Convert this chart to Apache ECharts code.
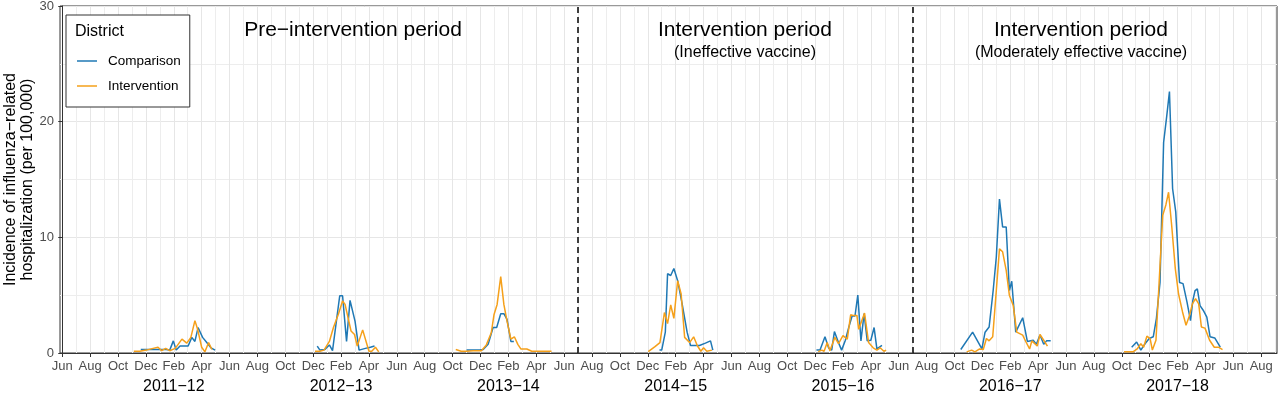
<!DOCTYPE html>
<html>
<head>
<meta charset="utf-8">
<script src="https://cdn.jsdelivr.net/npm/echarts@6/dist/echarts.min.js"></script>
<style>
  html, body { margin: 0; padding: 0; background: #fff; }
  #chart { width: 1280px; height: 397px; }
</style>
</head>
<body>
<div id="chart"></div>
<script>
// weekly incidence per 100,000, one list per season, [date, value]
var comparison = [
  [['2011-11-20',0.3],['2011-11-27',0.3],['2011-12-04',0.3],['2011-12-11',0.3],['2011-12-18',0.3],['2011-12-25',0.3],
   ['2012-01-01',0.3],['2012-01-08',0.3],['2012-01-15',0.3],['2012-01-23',0.25],['2012-01-31',1.05],['2012-02-06',0.25],
   ['2012-02-14',0.6],['2012-03-02',0.6],['2012-03-10',1.35],['2012-03-17',1.0],['2012-03-24',2.2],['2012-04-03',1.35],
   ['2012-04-12',0.9],['2012-04-21',0.45],['2012-04-30',0.25]],
  [['2012-12-10',0.6],['2012-12-16',0.25],['2012-12-27',0.3],['2013-01-06',0.7],['2013-01-13',0.2],['2013-01-29',4.95],
   ['2013-02-04',4.95],['2013-02-12',1.0],['2013-02-19',4.55],['2013-03-01',2.75],['2013-03-10',0.25],['2013-03-24',0.4],
   ['2013-04-04',0.5],['2013-04-13',0.6]],
  [['2013-11-01',0.25],['2013-11-30',0.25],['2013-12-07',0.3],['2013-12-18',0.75],['2013-12-29',2.2],['2014-01-06',2.2],
   ['2014-01-15',3.4],['2014-01-22',3.4],['2014-01-29',2.9],['2014-02-06',1.0],['2014-02-12',1.0]],
  [['2014-12-27',0.25],['2015-01-01',0.25],['2015-01-09',1.8],['2015-01-14',6.85],['2015-01-21',6.7],['2015-01-28',7.3],
   ['2015-02-05',6.25],['2015-02-14',4.25],['2015-02-24',1.8],['2015-03-03',0.65],['2015-03-12',0.65],['2015-03-23',0.65],
   ['2015-04-05',0.85],['2015-04-16',1.05],['2015-04-21',0.25]],
  [['2015-12-04',0.25],['2015-12-12',0.25],['2015-12-23',1.4],['2015-12-31',0.45],['2016-01-07',0.25],['2016-01-13',1.85],
   ['2016-01-22',0.9],['2016-01-29',0.25],['2016-02-06',1.1],['2016-02-13',2.2],['2016-02-20',3.2],['2016-02-26',3.2],
   ['2016-03-03',5.0],['2016-03-10',1.05],['2016-03-17',3.4],['2016-03-24',1.05],['2016-04-01',1.1],['2016-04-08',2.2],
   ['2016-04-14',0.35],['2016-04-25',0.65]],
  [['2016-10-15',0.3],['2016-11-10',1.8],['2016-11-30',0.35],['2016-12-07',1.8],['2016-12-16',2.25],['2016-12-25',5.4],
   ['2017-01-01',8.3],['2017-01-08',13.3],['2017-01-15',10.9],['2017-01-23',10.9],['2017-01-30',5.4],['2017-02-04',6.2],
   ['2017-02-12',1.8],['2017-02-26',3.05],['2017-03-08',1.0],['2017-03-21',1.1],['2017-03-28',0.75],['2017-04-05',1.55],
   ['2017-04-13',0.75],['2017-04-19',1.05],['2017-04-28',1.05]],
  [['2017-10-23',0.5],['2017-11-03',0.95],['2017-11-12',0.25],['2017-11-21',0.8],['2017-11-30',1.25],['2017-12-09',1.4],
   ['2017-12-16',3.0],['2017-12-24',6.1],['2018-01-01',18.2],['2018-01-08',20.5],['2018-01-14',22.6],['2018-01-21',14.2],
   ['2018-01-28',12.2],['2018-02-05',6.1],['2018-02-12',6.0],['2018-02-20',4.4],['2018-02-27',2.8],['2018-03-04',4.55],
   ['2018-03-09',5.4],['2018-03-14',5.55],['2018-03-20',4.1],['2018-03-27',3.7],['2018-04-04',3.1],['2018-04-11',1.4],
   ['2018-04-21',1.3],['2018-05-03',0.5]]
];

var intervention = [
  [['2011-11-05',0.15],['2011-11-18',0.15],['2011-12-02',0.25],['2011-12-17',0.4],['2011-12-28',0.5],['2012-01-05',0.2],
   ['2012-01-14',0.4],['2012-01-23',0.2],['2012-02-04',0.4],['2012-02-18',1.2],['2012-02-28',0.85],['2012-03-08',1.35],
   ['2012-03-17',2.8],['2012-03-23',2.05],['2012-04-01',0.5],['2012-04-08',0.1],['2012-04-16',0.9],['2012-04-23',0.3]],
  [['2012-12-05',0.15],['2012-12-16',0.15],['2012-12-25',0.25],['2013-01-06',1.0],['2013-01-15',2.2],['2013-01-26',3.35],
   ['2013-02-04',4.5],['2013-02-09',4.2],['2013-02-21',1.9],['2013-02-28',1.6],['2013-03-06',0.6],['2013-03-18',2.0],
   ['2013-04-01',0.15],['2013-04-07',0.15],['2013-04-15',0.5],['2013-04-22',0.1]],
  [['2013-10-08',0.3],['2013-10-20',0.15],['2013-11-01',0.15],['2013-11-15',0.2],['2013-12-03',0.2],['2013-12-14',0.7],
   ['2013-12-25',1.75],['2013-12-31',3.3],['2014-01-07',4.2],['2014-01-15',6.6],['2014-01-22',4.2],['2014-01-29',2.75],
   ['2014-02-06',1.2],['2014-02-13',1.4],['2014-02-20',0.75],['2014-02-26',0.35],['2014-03-11',0.35],['2014-03-22',0.15],
   ['2014-04-09',0.15],['2014-05-04',0.15]],
  [['2014-12-02',0.12],['2014-12-17',0.55],['2014-12-28',0.9],['2015-01-07',3.5],['2015-01-14',2.55],['2015-01-21',4.15],
   ['2015-01-28',3.0],['2015-02-05',6.25],['2015-02-12',5.1],['2015-02-19',1.35],['2015-03-01',0.9],['2015-03-10',1.4],
   ['2015-03-18',0.65],['2015-03-26',0.15],['2015-04-01',0.45],['2015-04-08',0.15],['2015-04-19',0.25]],
  [['2015-12-08',0.12],['2015-12-16',0.25],['2015-12-21',0.15],['2015-12-28',0.9],['2016-01-03',0.2],['2016-01-14',1.35],
   ['2016-01-22',0.8],['2016-02-01',1.5],['2016-02-10',1.2],['2016-02-17',3.3],['2016-02-22',3.25],['2016-03-01',3.25],
   ['2016-03-05',2.05],['2016-03-18',3.45],['2016-03-27',0.9],['2016-04-06',0.45],['2016-04-14',0.25],['2016-04-21',0.45],
   ['2016-04-29',0.15],['2016-05-04',0.25]],
  [['2016-10-28',0.1],['2016-11-08',0.25],['2016-11-15',0.1],['2016-11-25',0.35],['2016-12-03',0.3],['2016-12-10',1.25],
   ['2016-12-16',1.05],['2016-12-24',1.4],['2017-01-01',5.4],['2017-01-08',9.0],['2017-01-15',8.75],['2017-01-23',7.15],
   ['2017-01-30',5.0],['2017-02-07',4.1],['2017-02-14',1.8],['2017-02-26',1.55],['2017-03-05',0.95],['2017-03-13',0.35],
   ['2017-03-18',1.05],['2017-03-30',0.6],['2017-04-05',1.6],['2017-04-13',1.1],['2017-04-21',0.6]],
  [['2017-10-06',0.1],['2017-10-17',0.1],['2017-10-26',0.1],['2017-11-04',0.35],['2017-11-12',0.8],['2017-11-18',0.5],
   ['2017-11-25',1.45],['2017-12-02',1.25],['2017-12-07',0.25],['2017-12-15',1.1],['2017-12-22',6.1],['2017-12-30',11.9],
   ['2018-01-06',12.8],['2018-01-12',13.9],['2018-01-19',11.0],['2018-01-27',7.3],['2018-02-03',5.1],['2018-02-11',3.55],
   ['2018-02-18',2.4],['2018-02-25',3.25],['2018-03-03',4.25],['2018-03-10',4.7],['2018-03-17',4.25],['2018-03-23',2.25],
   ['2018-03-31',2.15],['2018-04-10',1.1],['2018-04-20',0.5],['2018-04-29',0.5],['2018-05-08',0.3]]
];

var monthNames = ['Jan','Feb','Mar','Apr','May','Jun','Jul','Aug','Sep','Oct','Nov','Dec'];
var seasonLabels = ['2011\u221212','2012\u221213','2013\u221214','2014\u221215','2015\u221216','2016\u221217','2017\u221218'];
var seasonLabelDates = ['2012-02-01','2013-02-01','2014-02-01','2015-02-01','2016-02-01','2017-02-01','2018-02-01'];
var dividerDates = ['2014-07-01','2016-07-01'];
var axisStart = '2011-05-27', axisEnd = '2018-09-05';

// x axis unit = months since 1 Jun 2011
function toMonth(s) {
  var p = s.split('-').map(Number);
  var dim = new Date(p[0], p[1], 0).getDate();
  return (p[0] - 2011) * 12 + (p[1] - 6) + (p[2] - 1) / dim;
}

function buildSeries(seasons) {
  var out = [];
  seasons.forEach(function (s, i) {
    if (i > 0) out.push([toMonth(s[0][0]) - 0.01, '-']);
    s.forEach(function (d) { out.push([toMonth(d[0]), d[1]]); });
  });
  return out;
}

var majorTicks = [], minorTicks = [];
for (var m = 0; m <= 87; m++) {
  if (m % 2 === 0) majorTicks.push(m); else minorTicks.push(m);
}
var seasonVals = seasonLabelDates.map(toMonth);

var font = 'Liberation Sans, Arial, Helvetica, sans-serif';
var grey = '#e6e6e6';
var lineIcon = 'path://M0,0 L20,0 L20,1.5 L0,1.5 Z';

var chart = echarts.init(document.getElementById('chart'));
chart.setOption({
  animation: false,
  textStyle: { fontFamily: font },
  grid: {
    left: 60, right: 3, top: 6, bottom: 44, containLabel: false, outerBoundsMode: 'none',
    show: true, borderColor: '#333', borderWidth: 1
  },
  legend: {
    data: [{ name: 'Comparison', icon: lineIcon }, { name: 'Intervention', icon: lineIcon }],
    orient: 'vertical',
    left: 66, top: 15,
    padding: [39, 9, 14, 11],
    itemGap: 11, itemWidth: 20, itemHeight: 14, symbolKeepAspect: true,
    borderColor: '#333', borderWidth: 1, backgroundColor: '#fff',
    textStyle: { fontSize: 13.5, color: '#000', padding: [0, 0, 0, 6] }
  },
  graphic: [
    { type: 'text', left: 75, top: 24, z: 100, style: { text: 'District', fontSize: 16, fill: '#000', fontFamily: font } },
    { type: 'text', x: 353, y: 30, z: 100, style: { text: 'Pre\u2212intervention period', fontSize: 21, fill: '#000', align: 'center', verticalAlign: 'middle', fontFamily: font } },
    { type: 'text', x: 745, y: 30, z: 100, style: { text: 'Intervention period', fontSize: 21, fill: '#000', align: 'center', verticalAlign: 'middle', fontFamily: font } },
    { type: 'text', x: 745, y: 53, z: 100, style: { text: '(Ineffective vaccine)', fontSize: 16, fill: '#000', align: 'center', verticalAlign: 'middle', fontFamily: font } },
    { type: 'text', x: 1081, y: 30, z: 100, style: { text: 'Intervention period', fontSize: 21, fill: '#000', align: 'center', verticalAlign: 'middle', fontFamily: font } },
    { type: 'text', x: 1081, y: 53, z: 100, style: { text: '(Moderately effective vaccine)', fontSize: 16, fill: '#000', align: 'center', verticalAlign: 'middle', fontFamily: font } }
  ],
  xAxis: [
    {
      type: 'value', min: toMonth(axisStart), max: toMonth(axisEnd),
      axisLine: { show: true, lineStyle: { color: '#333', width: 1 } },
      axisTick: { show: true, customValues: majorTicks, length: 4, lineStyle: { color: '#333' } },
      axisLabel: {
        customValues: majorTicks, color: '#4d4d4d', fontSize: 13, margin: 7,
        formatter: function (v) { return monthNames[(Math.round(v) + 5) % 12]; }
      },
      splitLine: { show: true, lineStyle: { color: grey, width: 1 } }
    },
    {
      type: 'value', min: toMonth(axisStart), max: toMonth(axisEnd), position: 'bottom',
      axisLine: { show: false },
      axisTick: { show: false, customValues: minorTicks },
      axisLabel: { show: false },
      splitLine: { show: true, lineStyle: { color: '#ededed', width: 1 } }
    },
    {
      type: 'value', min: toMonth(axisStart), max: toMonth(axisEnd), position: 'bottom',
      axisLine: { show: false },
      axisTick: { show: false, customValues: seasonVals },
      axisLabel: {
        customValues: seasonVals, color: '#000', fontSize: 16, margin: 26,
        formatter: function (v) {
          var i = seasonVals.findIndex(function (s) { return Math.abs(s - v) < 1e-6; });
          return seasonLabels[i];
        }
      },
      splitLine: { show: false }
    }
  ],
  yAxis: {
    type: 'value', min: 0, max: 30, interval: 10,
    name: 'Incidence of influenza\u2212related\nhospitalization (per 100,000)',
    nameLocation: 'middle', nameGap: 24, nameRotate: 90, nameMoveOverlap: false,
    nameTextStyle: { fontSize: 16, color: '#000', lineHeight: 17 },
    axisLine: { show: true, lineStyle: { color: '#333', width: 1 } },
    axisTick: { show: true, length: 4, lineStyle: { color: '#333' } },
    axisLabel: { color: '#4d4d4d', fontSize: 13, margin: 6 },
    splitLine: { show: true, lineStyle: { color: grey, width: 1 } },
    minorTick: { show: false, splitNumber: 2 },
    minorSplitLine: { show: true, lineStyle: { color: '#ededed', width: 1 } }
  },
  series: [
    {
      name: 'Comparison', type: 'line', xAxisIndex: 0,
      data: buildSeries(comparison), symbol: 'none', connectNulls: false,
      lineStyle: { color: '#1F78B4', width: 1.5 }, itemStyle: { color: '#1F78B4' },
      markLine: {
        silent: true, symbol: ['none', 'none'], label: { show: false },
        lineStyle: { color: '#000', type: [6, 4], width: 1.5 },
        data: dividerDates.map(function (d) { return { xAxis: toMonth(d) }; })
      }
    },
    {
      name: 'Intervention', type: 'line', xAxisIndex: 0,
      data: buildSeries(intervention), symbol: 'none', connectNulls: false,
      lineStyle: { color: '#F5A01A', width: 1.5 }, itemStyle: { color: '#F5A01A' }
    }
  ]
});
</script>
</body>
</html>
